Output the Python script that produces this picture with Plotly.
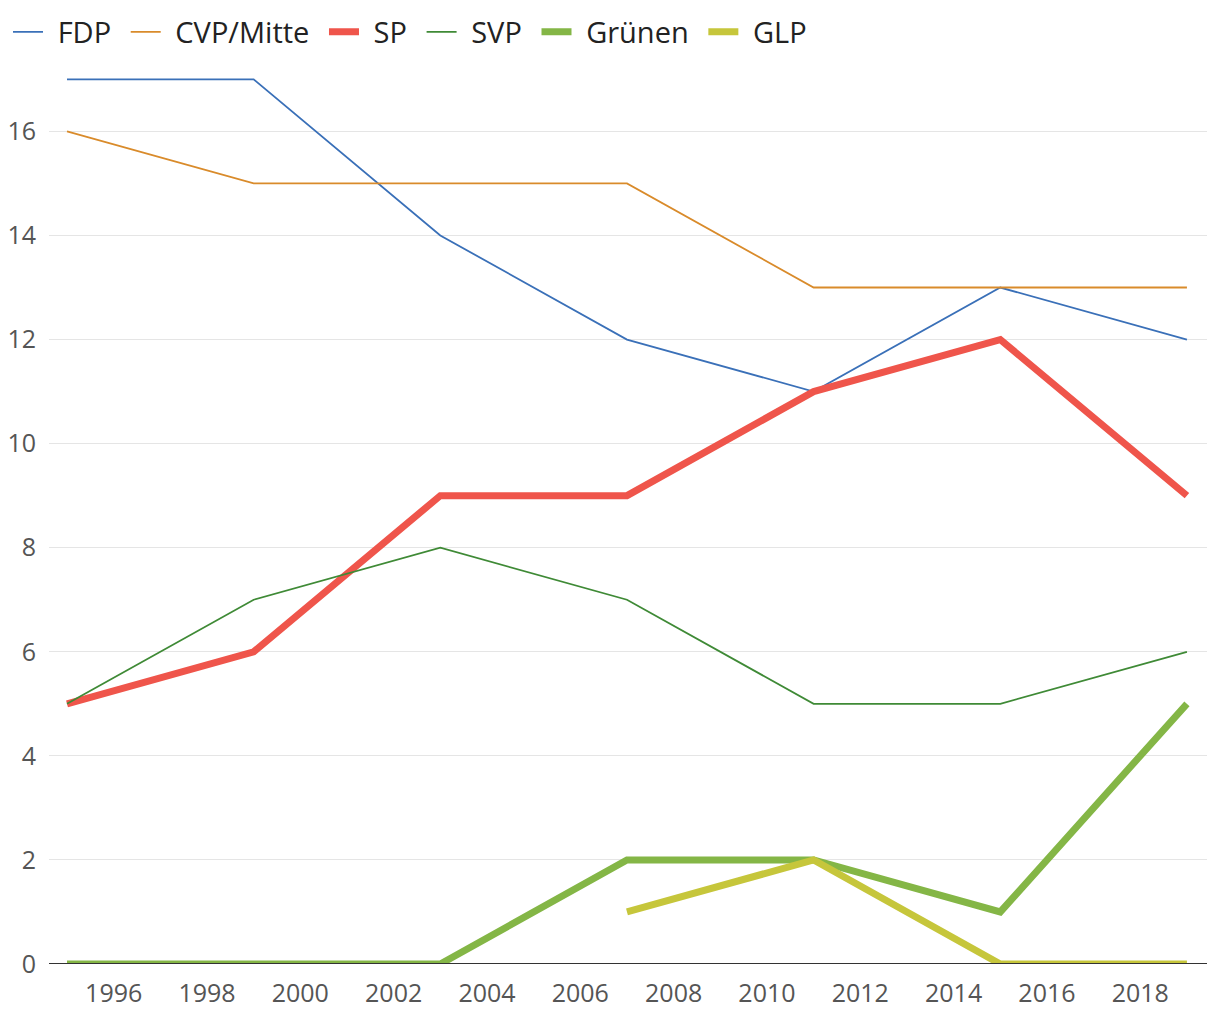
import plotly.graph_objects as go

years = [1995, 1999, 2003, 2007, 2011, 2015, 2019]
fdp = [17, 17, 14, 12, 11, 13, 12]
cvp = [16, 15, 15, 15, 13, 13, 13]
sp = [5, 6, 9, 9, 11, 12, 9]
svp = [5, 7, 8, 7, 5, 5, 6]
gruene = [0, 0, 0, 2, 2, 1, 5]
glp = [None, None, None, 1, 2, 0, 0]

series = [
    ("FDP", fdp, "#3a70b8", 1.8),
    ("CVP/Mitte", cvp, "#d98b2b", 1.8),
    ("SP", sp, "#ef554b", 7),
    ("SVP", svp, "#3f8a36", 1.8),
    ("Grünen", gruene, "#84b646", 7),
    ("GLP", glp, "#c6c63b", 7),
]

pad_l = "\u2009\u2009"
pad_r = "\u2009\u2009"

fig = go.Figure()
for name, vals, color, w in series:
    fig.add_trace(go.Scatter(
        x=years, y=vals, name=pad_l + name + pad_r, mode="lines",
        line=dict(color=color, width=w),
        connectgaps=False,
    ))

fig.add_hline(y=0, line=dict(color="#333", width=2), layer="above")

fig.update_layout(
    width=1220, height=1020,
    paper_bgcolor="white", plot_bgcolor="white",
    margin=dict(l=41, r=21, t=44, b=64),
    font=dict(family="Open Sans", color="#444"),
    legend=dict(orientation="h", xref="container", x=-4 / 1220, xanchor="left",
                yref="container", y=1 - 24 / 1020, yanchor="middle",
                font=dict(size=29, color="#222"), itemwidth=30),
    xaxis=dict(range=[1994.614, 2019.43], tickmode="linear", tick0=1996, dtick=2,
               showgrid=False, zeroline=False, showline=False, automargin=False,
               tickfont=dict(size=25, color="#555"), ticks="", ticklabelstandoff=12),
    yaxis=dict(range=[0, 17.42], tickmode="linear", tick0=0, dtick=2,
               showgrid=True, gridcolor="#e5e5e5", gridwidth=1.2,
               zeroline=False, automargin=False,
               tickfont=dict(size=25, color="#555"), ticks="", ticklabelstandoff=12),
)

fig.write_html("out.html")
